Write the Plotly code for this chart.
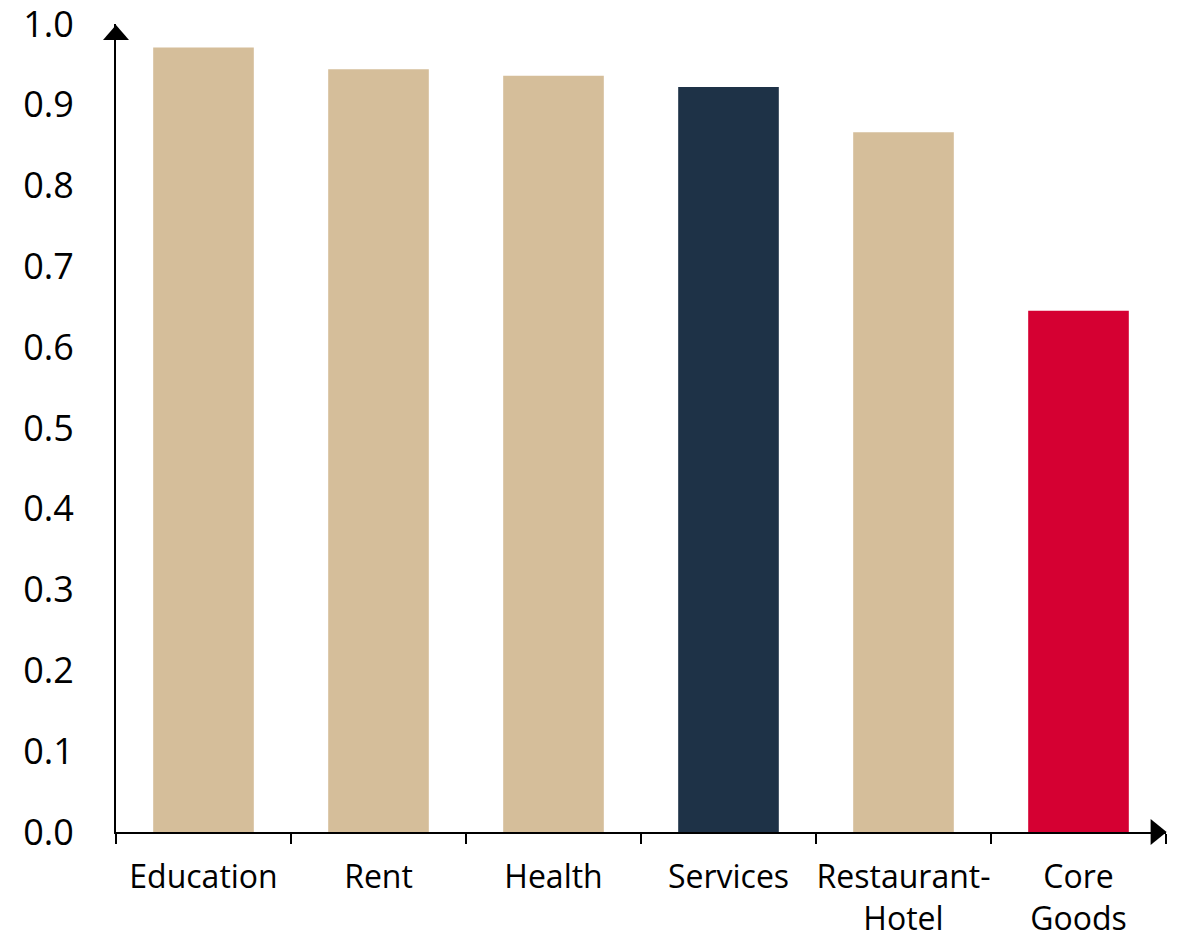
import plotly.graph_objects as go

categories = ["Education", "Rent", "Health", "Services", "Restaurant-<br>Hotel", "Core<br>Goods"]
values = [0.971, 0.944, 0.936, 0.922, 0.866, 0.645]
bar_colors = ["#D5BE9A", "#D5BE9A", "#D5BE9A", "#1E3247", "#D5BE9A", "#D50032"]
y_ticks = [0.0, 0.1, 0.2, 0.3, 0.4, 0.5, 0.6, 0.7, 0.8, 0.9, 1.0]

W, H = 1186, 939
ml, mr, mt, mb = 116, 20, 24, 107
pw = W - ml - mr
ph = H - mt - mb

fig = go.Figure(go.Bar(
    x=categories, y=values, marker=dict(color=bar_colors, line=dict(width=0)),
    width=0.575,
))

# arrow heads (pixel sizes converted to paper units)
ax_len, ax_half = 16 / pw, 13 / ph
ay_len, ay_half = 15 / ph, 13 / pw
shapes = [
    dict(type="path", xref="paper", yref="paper",
         path=f"M 1.0006,0 L {1.0006-ax_len},{ax_half} L {1.0006-ax_len},{-ax_half} Z",
         fillcolor="black", line=dict(width=0)),
    dict(type="path", xref="paper", yref="paper",
         path=f"M 0,{1 - 1/ph} L {-ay_half},{1 - 1/ph - ay_len} L {ay_half},{1 - 1/ph - ay_len} Z",
         fillcolor="black", line=dict(width=0)),
]

fig.update_layout(
    width=W, height=H,
    margin=dict(l=ml, r=mr, t=mt, b=mb, pad=0),
    plot_bgcolor="white", paper_bgcolor="white",
    font=dict(family="Open Sans", color="black"),
    showlegend=False,
    shapes=shapes,
    xaxis=dict(
        range=[-0.5, 5.5], showline=True, linecolor="black", linewidth=2,
        ticks="outside", tickson="boundaries", ticklen=10, tickwidth=2, tickcolor="black",
        tickfont=dict(size=32), showgrid=False, zeroline=False,
        tickangle=0, automargin=False, ticklabelstandoff=16,
    ),
    yaxis=dict(
        range=[0, 1.0], tickvals=y_ticks, ticktext=[f"{v:.1f}" for v in y_ticks],
        showline=True, linecolor="black", linewidth=2, ticks="",
        tickfont=dict(size=36), showgrid=False, zeroline=False,
        ticklabelstandoff=33, automargin=False, ticklabeloverflow="allow",
    ),
)

fig.write_html("out.html")
